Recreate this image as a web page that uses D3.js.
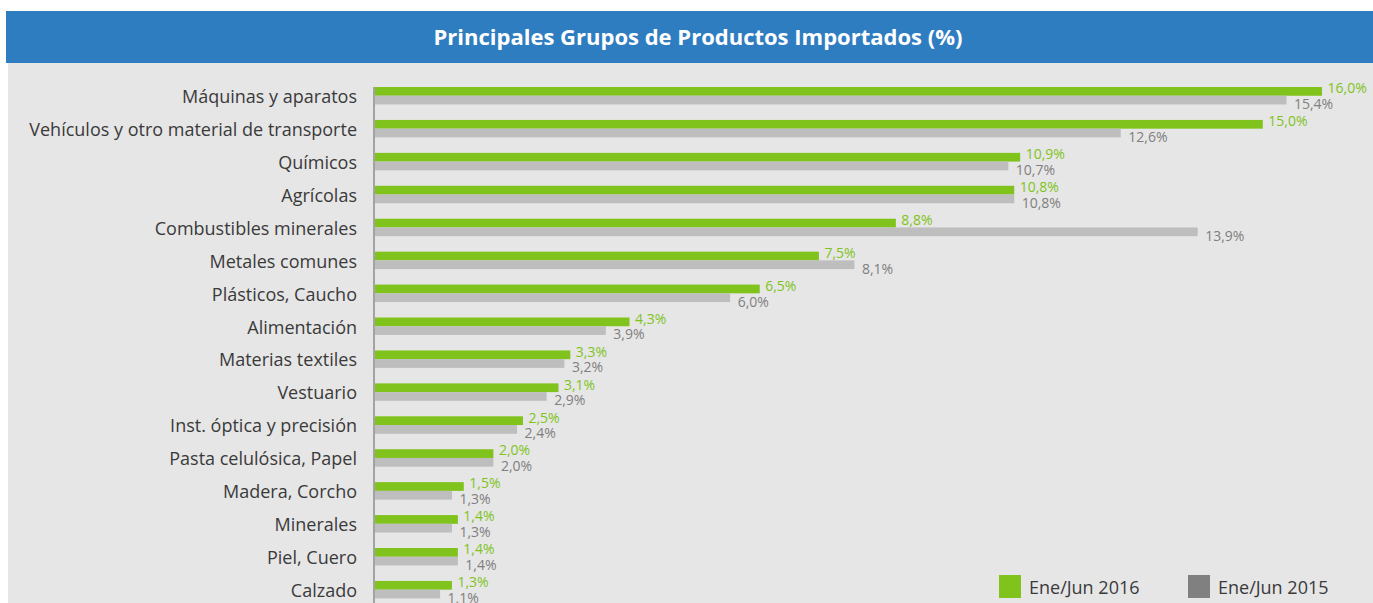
<!DOCTYPE html>
<html>
<head>
<meta charset="utf-8">
<script src="https://cdn.jsdelivr.net/npm/d3@7"></script>
<style>
  html, body { margin: 0; padding: 0; background: #ffffff; }
  svg { display: block; }
  text { font-family: "Open Sans", "Noto Sans", sans-serif; }
</style>
</head>
<body>
<svg id="chart" width="1373" height="603"></svg>
<script>
const title = "Principales Grupos de Productos Importados (%)";
const categories = [
  "Máquinas y aparatos",
  "Vehículos y otro material de transporte",
  "Químicos",
  "Agrícolas",
  "Combustibles minerales",
  "Metales comunes",
  "Plásticos, Caucho",
  "Alimentación",
  "Materias textiles",
  "Vestuario",
  "Inst. óptica y precisión",
  "Pasta celulósica, Papel",
  "Madera, Corcho",
  "Minerales",
  "Piel, Cuero",
  "Calzado"
];
const seriesNames = ["Ene/Jun 2016", "Ene/Jun 2015"];
const values2016 = [16.0, 15.0, 10.9, 10.8, 8.8, 7.5, 6.5, 4.3, 3.3, 3.1, 2.5, 2.0, 1.5, 1.4, 1.4, 1.3];
const values2015 = [15.4, 12.6, 10.7, 10.8, 13.9, 8.1, 6.0, 3.9, 3.2, 2.9, 2.4, 2.0, 1.3, 1.3, 1.4, 1.1];
const barColors = ["#80c31c", "#bebebe"];
const labelColors = ["#80c31c", "#7f7f7f"];
const legendColors = ["#80c31c", "#808080"];

const svg = d3.select("#chart");
const W = 1373, H = 603;

// background panels
svg.append("rect").attr("x", 8).attr("y", 63).attr("width", W - 8).attr("height", H - 63).attr("fill", "#e6e6e6");
svg.append("rect").attr("x", 6).attr("y", 11).attr("width", W - 6).attr("height", 52).attr("fill", "#2f7dc1");
svg.append("text").attr("x", 698).attr("y", 37).attr("dy", "0.35em")
  .attr("text-anchor", "middle").attr("fill", "#ffffff")
  .attr("font-size", 22).attr("font-weight", "bold").text(title);

const step = 32.93;
const x = d3.scaleLinear().domain([0, 16]).range([375, 1322]);
const y = d3.scaleBand().domain(categories)
  .range([87 - 0.235 * step, 87 - 0.235 * step + categories.length * step])
  .paddingInner(0.47).paddingOuter(0.235);
const ySub = d3.scaleBand().domain(seriesNames).range([0, y.bandwidth()]);

const data = categories.map((c, i) => ({ cat: c, vals: [values2016[i], values2015[i]] }));

const groups = svg.append("g").selectAll("g").data(data).join("g")
  .attr("transform", d => `translate(0,${y(d.cat)})`);

groups.selectAll("rect").data(d => d.vals.map((v, k) => ({ v, k })))
  .join("rect")
  .attr("x", x(0))
  .attr("y", d => ySub(seriesNames[d.k]))
  .attr("width", d => x(d.v) - x(0))
  .attr("height", ySub.bandwidth())
  .attr("fill", d => barColors[d.k]);

const fmt = v => v.toFixed(1).replace(".", ",") + "%";
groups.selectAll("text.val").data(d => d.vals.map((v, k) => ({ v, k })))
  .join("text").attr("class", "val")
  .attr("x", d => x(d.v) + (d.k === 0 ? 5.5 : 7.5))
  .attr("y", d => ySub(seriesNames[d.k]) + ySub.bandwidth() / 2 + (d.k === 0 ? -3 : 4))
  .attr("dy", "0.35em")
  .attr("font-size", 14)
  .attr("fill", d => labelColors[d.k])
  .text(d => fmt(d.v));

// category axis
const axis = svg.append("g").attr("transform", `translate(${x(0) - 1},1.5)`)
  .call(d3.axisLeft(y).tickSize(0).tickPadding(17));
axis.select(".domain").remove();
axis.selectAll("text").attr("font-size", 18).attr("fill", "#3a3a3a")
  .attr("font-family", "'Open Sans', 'Noto Sans', sans-serif");

svg.append("line").attr("x1", x(0) - 1).attr("x2", x(0) - 1)
  .attr("y1", 87).attr("y2", H).attr("stroke", "#a3a3a3").attr("stroke-width", 2);

// legend
const legendX = [999, 1188];
const leg = svg.append("g").selectAll("g").data(seriesNames).join("g")
  .attr("transform", (d, i) => `translate(${legendX[i]},575)`);
leg.append("rect").attr("width", 22).attr("height", 23).attr("fill", (d, i) => legendColors[i]);
leg.append("text").attr("x", 30).attr("y", 19).attr("font-size", 18).attr("fill", "#3a3a3a").text(d => d);
</script>
</body>
</html>
